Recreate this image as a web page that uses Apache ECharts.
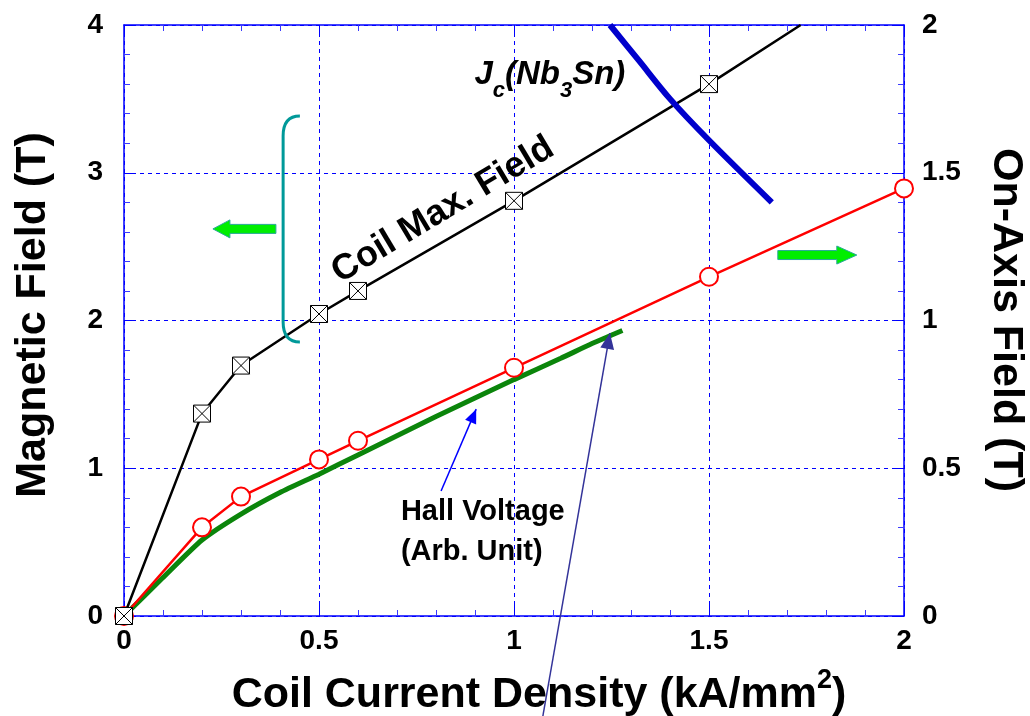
<!DOCTYPE html>
<html>
<head>
<meta charset="utf-8">
<script src="https://cdn.jsdelivr.net/npm/echarts@6/dist/echarts.min.js"></script>
<style>html,body{margin:0;padding:0;background:#fff}#chart{width:1030px;height:716px}</style>
</head>
<body>
<div id="chart"></div>
<script>
// coil current density (kA/mm2) vs fields
var coilX=[0,0.2,0.3,0.5,0.6,1.0,1.5,1.735];
var coilMaxField=[0,1.37,1.695,2.044,2.2,2.81,3.6,4.0];
var onAxisX=[0,0.2,0.3,0.5,0.6,1.0,1.5,2.0];
var onAxisField=[0,0.3,0.404,0.53,0.593,0.84,1.148,1.447];
var hallX=[0,0.1,0.2,0.3,0.4,0.5,0.6,0.8,1.0,1.12,1.2,1.278];
var hallVoltage=[0,0.13,0.257,0.345,0.418,0.48,0.545,0.675,0.80,0.872,0.922,0.966];
var jcX=[1.246,1.32,1.40,1.50,1.661];
var jcField=[4.0,3.76,3.50,3.22,2.8];

var FONT='"Liberation Sans", Arial, sans-serif';
var BLUE='#0000ff';

function pairs(xs,ys){
	var out=[];
	for (var i=0;i<xs.length;i++){ out.push([xs[i],ys[i]]); }
	return out;
}
var coilData=pairs(coilX,coilMaxField);
coilData[coilData.length-1]={value:coilData[coilData.length-1],symbol:'none'};

var boxCross='path://M0,0L20,0L20,20L0,20Z M0,0L20,20 M20,0L0,20';

var tickLabel={color:'#000',fontFamily:FONT,fontWeight:'bold',fontSize:28};
function axisBase(){
	return {
		axisLine:{show:true,onZero:false,lineStyle:{color:BLUE,width:1.5}},
		axisTick:{show:true,inside:true,length:12,lineStyle:{color:BLUE,width:1}},
		minorTick:{show:true,splitNumber:5,length:6,lineStyle:{color:'#3a3aff',width:1}},
		splitLine:{show:false}
	};
}
var xBottom=axisBase();
xBottom.type='value';xBottom.position='bottom';xBottom.min=0;xBottom.max=2;xBottom.interval=0.5;
xBottom.axisLabel=Object.assign({margin:11},tickLabel);
xBottom.splitLine={show:true,lineStyle:{color:BLUE,type:[4,4],width:1}};
var xTop=axisBase();
xTop.type='value';xTop.position='top';xTop.min=0;xTop.max=2;xTop.interval=0.5;
xTop.axisLabel={show:false};
var yLeft=axisBase();
yLeft.type='value';yLeft.position='left';yLeft.min=0;yLeft.max=4;yLeft.interval=1;
yLeft.axisLabel=Object.assign({margin:21},tickLabel);
yLeft.splitLine={show:true,lineStyle:{color:BLUE,type:[4,4],width:1}};
var yRight=axisBase();
yRight.type='value';yRight.position='right';yRight.min=0;yRight.max=2;yRight.interval=0.5;
yRight.axisLabel=Object.assign({margin:18},tickLabel);

var chart=echarts.init(document.getElementById('chart'));
var option={
	animation:false,
	backgroundColor:'#fff',
	grid:{left:124,right:126,top:25,bottom:100},
	xAxis:[xBottom,xTop],
	yAxis:[yLeft,yRight],
	series:[
		{name:'Hall Voltage',type:'line',xAxisIndex:0,yAxisIndex:1,data:pairs(hallX,hallVoltage),
			smooth:0.2,symbol:'none',lineStyle:{color:'#0b850b',width:5},z:3},
		{name:'On-Axis Field',type:'line',xAxisIndex:0,yAxisIndex:1,data:pairs(onAxisX,onAxisField),
			symbol:'emptyCircle',symbolSize:18,lineStyle:{color:'#ff0000',width:2.5},
			itemStyle:{color:'#ff0000',borderColor:'#ff0000',borderWidth:1},z:4},
		{name:'Coil Max. Field',type:'line',xAxisIndex:0,yAxisIndex:0,data:coilData,
			symbol:boxCross,symbolSize:17,lineStyle:{color:'#000',width:2.5},
			itemStyle:{color:'#fff',borderColor:'#000',borderWidth:1},z:5},
		{name:'Jc(Nb3Sn)',type:'line',xAxisIndex:0,yAxisIndex:0,data:pairs(jcX,jcField),
			smooth:0.3,symbol:'none',lineStyle:{color:'#0000cc',width:6},z:6}
	]
};
chart.setOption(option);

function px(p){ return chart.convertToPixel({xAxisIndex:0,yAxisIndex:0},p); }
function arrowHead(tail,tip,len,half,color){
	var dx=tip[0]-tail[0],dy=tip[1]-tail[1],d=Math.sqrt(dx*dx+dy*dy);
	var ux=dx/d,uy=dy/d;
	var bx=tip[0]-ux*len,by=tip[1]-uy*len;
	return {type:'polygon',z:20,shape:{points:[tip,[bx-uy*half,by+ux*half],[bx+uy*half,by-ux*half]]},style:{fill:color}};
}
function blockArrow(tip,dirSign,total,headLen,shaftHalf,headHalf){
	var x=tip[0],y=tip[1],s=dirSign;
	return {type:'polygon',z:20,shape:{points:[
		[x,y],[x+s*headLen,y-headHalf],[x+s*headLen,y-shaftHalf],[x+s*total,y-shaftHalf],
		[x+s*total,y+shaftHalf],[x+s*headLen,y+shaftHalf],[x+s*headLen,y+headHalf]]},
		style:{fill:'#00ee00',stroke:'#2aa89a',lineWidth:1}};
}

var coilLabel=px([0.818,2.748]);
var jcLabel=px([1.092,3.628]);
var hall1=px([0.71,0.704]);
var hall2=px([0.71,0.433]);
var hallTail=px([0.813,0.846]),hallTip=px([0.903,1.40]);
var navyTail=px([1.074,-0.677]),navyTip=px([1.246,1.915]);
var leftTip=px([0.228,2.62]);
var rightTip=px([1.879,2.443]);
var brTop=px([0.451,3.384]),brBot=px([0.451,1.854]),brX=px([0.408,0])[0];

var graphics=[
	{type:'text',z:30,x:coilLabel[0],y:coilLabel[1],rotation:31*Math.PI/180,
		style:{text:'Coil Max. Field',font:'bold 36px '+FONT,fill:'#000',align:'center',verticalAlign:'middle'}},
	{type:'text',z:30,x:jcLabel[0],y:jcLabel[1],
		style:{text:'{a|J}{b|c}{a|(Nb}{b|3}{a|Sn)}',align:'center',verticalAlign:'middle',
			rich:{a:{font:'italic bold 33px '+FONT,fill:'#000',verticalAlign:'top',lineHeight:30},
				b:{font:'italic bold 22px '+FONT,fill:'#000',verticalAlign:'bottom',lineHeight:44}}}},
	{type:'text',z:30,x:hall1[0],y:hall1[1],
		style:{text:'Hall Voltage',font:'bold 29px '+FONT,fill:'#000',align:'left',verticalAlign:'middle'}},
	{type:'text',z:30,x:hall2[0],y:hall2[1],
		style:{text:'(Arb. Unit)',font:'bold 29px '+FONT,fill:'#000',align:'left',verticalAlign:'middle'}},
	{type:'line',z:20,shape:{x1:hallTail[0],y1:hallTail[1],x2:hallTip[0],y2:hallTip[1]},style:{stroke:'#0000ff',lineWidth:1.5}},
	arrowHead(hallTail,hallTip,14,6,'#0000ff'),
	{type:'line',z:20,shape:{x1:navyTail[0],y1:navyTail[1],x2:navyTip[0],y2:navyTip[1]},style:{stroke:'#333399',lineWidth:1.5}},
	arrowHead(navyTail,navyTip,16,7,'#333399'),
	blockArrow(leftTip,1,63,17,4.5,9),
	blockArrow(rightTip,-1,79,20,4.5,9),
	{type:'bezierCurve',z:20,shape:{x1:brTop[0],y1:brTop[1],cpx1:brX,cpy1:brTop[1],x2:brX,y2:brTop[1]+20},style:{stroke:'#009999',lineWidth:3,fill:null}},
	{type:'line',z:20,shape:{x1:brX,y1:brTop[1]+20,x2:brX,y2:brBot[1]-20},style:{stroke:'#009999',lineWidth:3}},
	{type:'bezierCurve',z:20,shape:{x1:brX,y1:brBot[1]-20,cpx1:brX,cpy1:brBot[1],x2:brBot[0],y2:brBot[1]},style:{stroke:'#009999',lineWidth:3,fill:null}},
	// axis titles
	{type:'text',z:30,x:33,y:315,rotation:Math.PI/2,
		style:{text:'Magnetic Field (T)',font:'bold 43px '+FONT,fill:'#000',align:'center',verticalAlign:'middle'}},
	{type:'text',z:30,x:1006,y:320,rotation:-Math.PI/2,
		style:{text:'On-Axis Field (T)',font:'bold 43px '+FONT,fill:'#000',align:'center',verticalAlign:'middle'}},
	{type:'text',z:30,x:539,y:692,
		style:{text:'{a|Coil Current Density (kA/mm}{s|2}{a|)}',align:'center',verticalAlign:'middle',
			rich:{a:{font:'bold 43px '+FONT,fill:'#000',lineHeight:50,verticalAlign:'bottom'},
				s:{font:'bold 27px '+FONT,fill:'#000',lineHeight:50,verticalAlign:'top'}}}}
];
chart.setOption({graphic:graphics});
</script>
</body>
</html>
